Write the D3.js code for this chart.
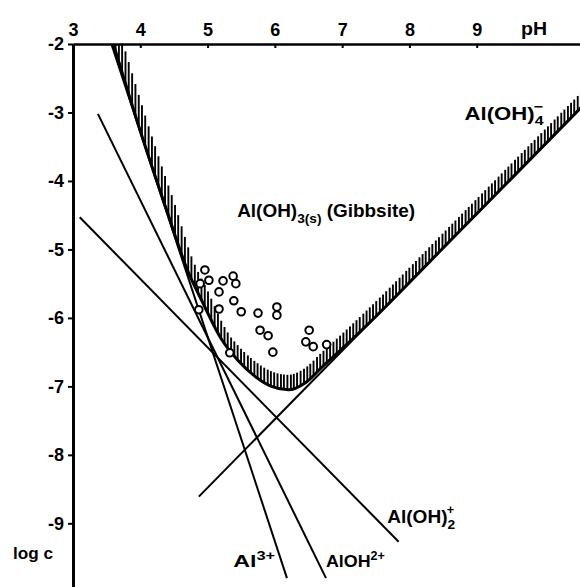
<!DOCTYPE html>
<html>
<head>
<meta charset="utf-8">
<script src="https://cdn.jsdelivr.net/npm/d3@7"></script>
<style>
  body { margin: 0; background: #fff; }
  svg { display: block; font-family: "Liberation Sans", Arial, sans-serif; font-weight: bold; }
  text { white-space: pre; }
</style>
</head>
<body>
<svg id="chart" width="580" height="587"></svg>
<script>
// axis ticks
const phTicks = [3, 4, 5, 6, 7, 8, 9];
const logcTicks = [-2, -3, -4, -5, -6, -7, -8, -9];

// species lines, end points as [pH, log c]
const al3Line = [[3.57, -2.0], [6.18, -9.8]];
const alOHLine = [[3.37, -3.02], [6.76, -9.8]];
const alOH2Line = [[3.10, -4.53], [7.84, -9.27]];
const alOH4Line = [[4.87, -8.61], [10.7, -2.78]];

// gibbsite solubility boundary
const boundaryPH = [3.6, 4.0, 4.4, 4.7, 4.93, 5.2, 5.45, 5.7, 5.95, 6.2, 6.45, 6.7, 7.0, 7.5, 8.5, 9.5, 10.7];
const boundaryLogc = [-2.0, -3.27, -4.45, -5.3, -5.78, -6.3, -6.62, -6.85, -7.0, -7.05, -6.95, -6.72, -6.45, -5.98, -4.98, -3.98, -2.78];

// measured solutions
const samplePH = [4.96, 5.02, 5.23, 5.38, 5.42, 5.17, 5.39, 4.89, 5.17, 5.50, 5.75, 6.03, 6.03, 5.78, 5.90, 5.97, 6.51, 6.46, 6.57, 6.77, 4.87, 5.33];
const sampleLogc = [-5.30, -5.45, -5.46, -5.39, -5.50, -5.62, -5.75, -5.50, -5.87, -5.91, -5.93, -5.84, -5.96, -6.18, -6.26, -6.50, -6.18, -6.35, -6.42, -6.39, -5.88, -6.51];

const svg = d3.select('#chart');
const width = 580, height = 587;

const x = d3.scaleLinear().domain([3, 10.55]).range([73, 581]);
const y = d3.scaleLinear().domain([-2, -9.93]).range([44, 587]);

// clip everything below the top axis
svg.append('clipPath').attr('id', 'plot')
  .append('rect').attr('x', x(3)).attr('y', y(-2)).attr('width', width).attr('height', height);

const plot = svg.append('g').attr('clip-path', 'url(#plot)');

const line = d3.line().x(d => x(d[0])).y(d => y(d[1]));

// species lines
[al3Line, alOHLine, alOH2Line, alOH4Line].forEach(l => {
  plot.append('path')
    .attr('d', line(l))
    .attr('fill', 'none')
    .attr('stroke', '#000')
    .attr('stroke-width', 2);
});

// boundary curve
const boundaryData = boundaryPH.map((p, i) => [p, boundaryLogc[i]]);
const boundary = plot.append('path')
  .attr('d', line.curve(d3.curveMonotoneX)(boundaryData))
  .attr('fill', 'none')
  .attr('stroke', '#000')
  .attr('stroke-width', 3);

// hatching on the gibbsite side of the curve
const node = boundary.node();
const total = node.getTotalLength();
const pts = d3.range(0, total, 0.5).map(l => node.getPointAtLength(l));
const hatch = [];
let nextX = Math.ceil(pts[0].x / 3.3) * 3.3;
for (let i = 0; i < pts.length; i++) {
  if (pts[i].x >= nextX) {
    const a = pts[Math.max(0, i - 6)], b = pts[Math.min(pts.length - 1, i + 6)];
    const s = Math.abs((b.y - a.y) / (b.x - a.x || 1e-6));
    const len = Math.max(15, 9.5 * Math.sqrt(1 + s * s));
    hatch.push({ x: pts[i].x, y: pts[i].y, len });
    nextX += 3.3;
  }
}
plot.append('g').selectAll('line')
  .data(hatch)
  .enter().append('line')
  .attr('x1', d => d.x).attr('x2', d => d.x)
  .attr('y1', d => d.y).attr('y2', d => d.y - d.len)
  .attr('stroke', '#000')
  .attr('stroke-width', 1.9);

// samples
plot.append('g').selectAll('circle')
  .data(samplePH.map((p, i) => [p, sampleLogc[i]]))
  .enter().append('circle')
  .attr('cx', d => x(d[0]))
  .attr('cy', d => y(d[1]))
  .attr('r', 3.8)
  .attr('fill', '#fff')
  .attr('stroke', '#000')
  .attr('stroke-width', 2);

// axes
const xAxis = d3.axisTop(x).tickValues(phTicks).tickSize(-4).tickSizeOuter(0).tickPadding(8);
const gx = svg.append('g').attr('transform', `translate(0,${y(-2)})`).call(xAxis);
gx.select('.domain').attr('stroke-width', 2.5);
gx.selectAll('.tick line').attr('stroke-width', 2);
gx.selectAll('.tick text').style('font-size', '18px').style('font-weight', 'bold').attr('font-family', null);

const yAxis = d3.axisLeft(y).tickValues(logcTicks).tickSize(5).tickSizeOuter(0).tickPadding(4)
  .tickFormat(d => String(d));
const gy = svg.append('g').attr('transform', `translate(${x(3)},0)`).call(yAxis);
gy.select('.domain').attr('stroke-width', 3);
gy.selectAll('.tick line').attr('stroke-width', 2);
gy.selectAll('.tick text').style('font-size', '18px').style('font-weight', 'bold').attr('font-family', null);

svg.selectAll('.tick text').attr('fill', '#000');

// labels
function label(ph, lc, w, size, parts) {
  const t = svg.append('text').attr('x', x(ph)).attr('y', y(lc)).style('font-size', size + 'px');
  let base = 0;
  parts.forEach(p => {
    const off = p.dy || 0;
    const s = t.append('tspan').text(p.text).attr('dy', off - base);
    base = off;
    if (p.size) s.style('font-size', p.size + 'px');
    if (p.dx) s.attr('dx', p.dx);
  });
  const bb = t.node().getBBox();
  const k = w / bb.width;
  t.attr('transform', `translate(${x(ph)},0) scale(${k},1) translate(${-x(ph)},0)`);
}

label(9.66, -1.87, 26, 18, [{ text: 'pH' }]);
label(2.11, -9.52, 40, 17, [{ text: 'log c' }]);
label(5.44, -4.53, 178, 18, [
  { text: 'Al(OH)' }, { text: '3(s)', dy: 6, size: 13 }, { text: ' (Gibbsite)', dy: 0 }
]);
label(8.82, -3.11, 80, 18, [
  { text: 'Al(OH)' }, { text: '4', dy: 5, size: 13 }, { text: '\u2212', dy: -9, dx: -8, size: 13 }
]);
label(7.67, -8.99, 68, 18, [
  { text: 'Al(OH)' }, { text: '2', dy: 6, size: 13 }, { text: '+', dy: -9, dx: -8, size: 12 }
]);
label(5.38, -9.64, 42, 17, [
  { text: 'Al' }, { text: '3+', dy: -7, size: 12 }
]);
label(6.76, -9.64, 59, 17, [
  { text: 'AlOH' }, { text: '2+', dy: -7, size: 12 }
]);
</script>
</body>
</html>
